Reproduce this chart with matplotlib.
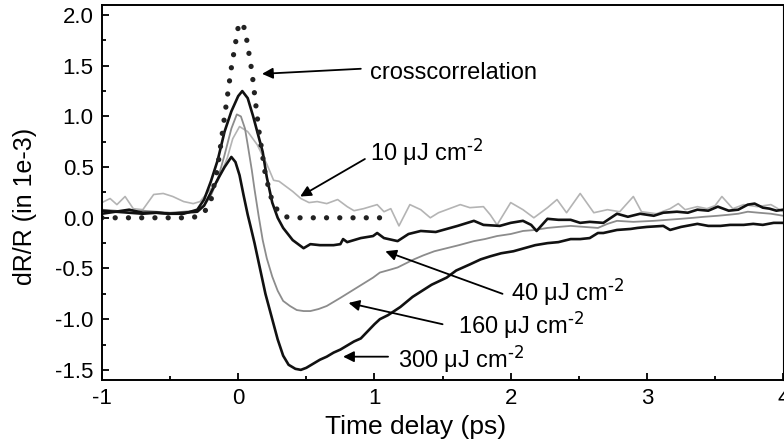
import matplotlib
matplotlib.use("Agg")
import matplotlib.pyplot as plt
from matplotlib.ticker import MultipleLocator

plt.rcParams['font.family'] = ['Liberation Sans', 'DejaVu Sans']
plt.rcParams['mathtext.default'] = 'regular'
plt.rcParams['axes.unicode_minus'] = False

# pump-probe traces, delay in ps, dR/R in units of 1e-3
t_10 = [-1.0, -0.94, -0.89, -0.83, -0.77, -0.7, -0.62, -0.55, -0.48, -0.4, -0.33, -0.28, -0.23,
        -0.15, -0.08, -0.04, 0.01, 0.07, 0.14, 0.21, 0.26, 0.3, 0.35, 0.4, 0.46, 0.52, 0.58,
        0.65, 0.73, 0.8, 0.85, 0.92, 1.02, 1.07, 1.12, 1.18, 1.26, 1.34, 1.41, 1.47, 1.53,
        1.63, 1.7, 1.8, 1.85, 1.9, 2.0, 2.09, 2.17, 2.27, 2.34, 2.41, 2.51, 2.61, 2.71, 2.8,
        2.9, 2.96, 3.07, 3.17, 3.23, 3.28, 3.37, 3.44, 3.5, 3.55, 3.63, 3.71, 3.81, 3.91, 4.0]
r_10 = [0.15, 0.19, 0.13, 0.21, 0.09, 0.08, 0.23, 0.24, 0.21, 0.16, 0.14, 0.16, 0.24,
        0.36, 0.59, 0.78, 0.9, 0.85, 0.72, 0.53, 0.37, 0.36, 0.31, 0.26, 0.19, 0.15, 0.16,
        0.14, 0.18, 0.11, 0.07, 0.09, 0.13, 0.06, 0.09, -0.08, 0.13, 0.08, 0.0, 0.05, 0.08,
        0.13, 0.1, 0.11, 0.03, -0.07, 0.15, 0.08, 0.0, 0.1, 0.18, 0.05, 0.24, 0.05, 0.08, 0.06,
        0.21, 0.06, 0.04, 0.09, 0.14, 0.08, 0.11, 0.09, 0.12, 0.21, 0.09, 0.13, 0.11, 0.13, 0.06]

t_40 = [-1.0, -0.9, -0.8, -0.7, -0.6, -0.5, -0.4, -0.3, -0.25, -0.2, -0.15, -0.1, -0.05, 0.0,
        0.03, 0.07, 0.11, 0.15, 0.18, 0.21, 0.25, 0.29, 0.33, 0.4, 0.48, 0.53, 0.6, 0.7, 0.75,
        0.77, 0.8, 0.9, 0.99, 1.02, 1.07, 1.17, 1.25, 1.34, 1.45, 1.53, 1.61, 1.73, 1.8, 1.92,
        2.0, 2.09, 2.15, 2.19, 2.27, 2.35, 2.44, 2.51, 2.58, 2.68, 2.78, 2.86, 2.95, 3.05, 3.12,
        3.22, 3.3, 3.37, 3.45, 3.52, 3.6, 3.67, 3.74, 3.79, 3.85, 3.9, 3.95, 4.0]
r_40 = [0.07, 0.06, 0.08, 0.05, 0.05, 0.04, 0.04, 0.08, 0.18, 0.36, 0.57, 0.85, 1.05, 1.2,
        1.25, 1.18, 1.0, 0.8, 0.65, 0.4, 0.15, 0.0, -0.1, -0.22, -0.3, -0.26, -0.27, -0.27, -0.26,
        -0.21, -0.24, -0.2, -0.18, -0.15, -0.2, -0.23, -0.16, -0.13, -0.14, -0.11, -0.08, -0.03, -0.07, -0.08,
        -0.05, -0.03, -0.07, -0.13, -0.01, -0.02, -0.02, -0.05, -0.04, -0.05, 0.04, 0.01, 0.04, 0.02, 0.05,
        0.06, 0.05, 0.08, 0.07, 0.11, 0.07, 0.08, 0.13, 0.14, 0.1, 0.09, 0.07, 0.08]

t_160 = [-1.0, -0.9, -0.8, -0.7, -0.6, -0.5, -0.4, -0.3, -0.25, -0.2, -0.15, -0.1, -0.05, -0.01,
         0.02, 0.05, 0.07, 0.1, 0.12, 0.15, 0.18, 0.21, 0.25, 0.29, 0.33, 0.38, 0.43, 0.48, 0.53,
         0.59, 0.65, 0.7, 0.75, 0.81, 0.87, 0.93, 0.99, 1.04, 1.12, 1.17, 1.23, 1.29, 1.36, 1.44,
         1.53, 1.62, 1.73, 1.81, 1.9, 2.0, 2.09, 2.18, 2.27, 2.35, 2.44, 2.54, 2.64, 2.71, 2.78,
         2.9, 3.05, 3.15, 3.25, 3.34, 3.42, 3.52, 3.6, 3.67, 3.74, 3.82, 3.91, 4.0]
r_160 = [0.08, 0.07, 0.05, 0.07, 0.06, 0.05, 0.06, 0.07, 0.12, 0.22, 0.38, 0.62, 0.88, 1.02,
         1.0, 0.88, 0.72, 0.47, 0.28, 0.02, -0.22, -0.4, -0.58, -0.72, -0.82, -0.87, -0.91, -0.92, -0.92,
         -0.9, -0.87, -0.83, -0.79, -0.74, -0.69, -0.64, -0.59, -0.54, -0.51, -0.49, -0.45, -0.41, -0.37, -0.33,
         -0.3, -0.27, -0.23, -0.21, -0.18, -0.16, -0.13, -0.12, -0.1, -0.09, -0.08, -0.09, -0.1, -0.06, -0.03,
         -0.04, -0.03, -0.02, -0.01, 0.0, 0.01, 0.02, 0.03, 0.04, 0.06, 0.05, 0.04, 0.02]

t_300 = [-1.0, -0.9, -0.8, -0.7, -0.6, -0.5, -0.4, -0.3, -0.25, -0.2, -0.15, -0.1, -0.05, -0.02,
         0.01, 0.04, 0.07, 0.09, 0.12, 0.16, 0.2, 0.23, 0.26, 0.29, 0.33, 0.37, 0.42, 0.46, 0.5,
         0.55, 0.6, 0.65, 0.7, 0.75, 0.8, 0.85, 0.9, 0.95, 1.0, 1.04, 1.1, 1.19, 1.28, 1.35, 1.42,
         1.53, 1.6, 1.7, 1.78, 1.85, 1.93, 2.02, 2.1, 2.18, 2.27, 2.35, 2.44, 2.51, 2.58, 2.64,
         2.68, 2.78, 2.88, 2.93, 3.0, 3.12, 3.17, 3.25, 3.37, 3.45, 3.54, 3.61, 3.71, 3.78, 3.85,
         3.93, 4.0]
r_300 = [0.04, 0.06, 0.05, 0.04, 0.05, 0.04, 0.05, 0.06, 0.12, 0.25, 0.38, 0.5, 0.6, 0.55,
         0.42, 0.22, 0.03, -0.08, -0.25, -0.5, -0.75, -0.9, -1.05, -1.2, -1.36, -1.45, -1.49, -1.5, -1.48,
         -1.44, -1.4, -1.37, -1.33, -1.3, -1.26, -1.22, -1.19, -1.12, -1.05, -1.0, -0.96, -0.88, -0.78, -0.72, -0.66,
         -0.59, -0.52, -0.46, -0.41, -0.38, -0.35, -0.33, -0.3, -0.27, -0.25, -0.24, -0.21, -0.21, -0.2, -0.15,
         -0.15, -0.12, -0.11, -0.1, -0.09, -0.08, -0.12, -0.09, -0.06, -0.08, -0.08, -0.07, -0.07, -0.06, -0.07,
         -0.05, -0.05]

# pump/probe crosscorrelation
t_cc = [-1.0, -0.9, -0.8, -0.7, -0.6, -0.5, -0.4, -0.3, -0.25, -0.2, -0.15, -0.1, -0.05, 0.0,
        0.02, 0.05, 0.1, 0.15, 0.2, 0.25, 0.3, 0.35, 0.4, 0.5, 0.6, 0.7, 0.8, 0.9, 1.0, 1.06]
r_cc = [0.0, 0.0, 0.0, 0.0, 0.0, 0.0, 0.0, 0.01, 0.05, 0.17, 0.5, 1.0, 1.48, 1.88,
        1.93, 1.86, 1.45, 0.88, 0.42, 0.16, 0.05, 0.01, 0.0, 0.0, 0.0, 0.0, 0.0, 0.0, 0.0, 0.0]

fig = plt.figure(figsize=(7.84, 4.46), dpi=100)
ax = fig.add_axes([0.130, 0.148, 0.869, 0.841])

ax.plot(t_10, r_10, color='#b4b4b4', lw=1.2)
ax.plot(t_160, r_160, color='#8c8c8c', lw=1.3)
ax.plot(t_40, r_40, color='#111111', lw=1.9)
ax.plot(t_300, r_300, color='#111111', lw=1.9)
ax.plot(t_cc, r_cc, color='#222222', lw=3.8, linestyle=(0, (0.01, 2.5)),
        dash_capstyle='round')

ax.set_xlim(-1, 4)
ax.set_ylim(-1.6, 2.1)
ax.xaxis.set_major_locator(MultipleLocator(1))
ax.xaxis.set_minor_locator(MultipleLocator(0.5))
ax.yaxis.set_major_locator(MultipleLocator(0.5))
ax.yaxis.set_minor_locator(MultipleLocator(0.25))
ax.yaxis.set_major_formatter(plt.FuncFormatter(lambda v, p: f"{v:.1f}"))
ax.tick_params(which='both', direction='in', top=False, right=False,
               width=1.3, labelsize=16)
ax.tick_params(which='major', length=5, pad=6)
ax.tick_params(which='minor', length=3)
for s in ax.spines.values():
    s.set_linewidth(1.4)
ax.spines['right'].set_linewidth(0.8)

ax.set_xlabel("Time delay (ps)", fontsize=19)
ax.set_ylabel("dR/R (in 1e-3)", fontsize=18)
ax.xaxis.set_label_coords(0.461, -0.125)
ax.yaxis.set_label_coords(-0.113, 0.464)
ax.xaxis.label.set_va('center')
ax.yaxis.label.set_va('center')

arrow = dict(arrowstyle='-|>', color='black', lw=1.3, mutation_scale=16,
             shrinkA=0, shrinkB=0)
ax.annotate('', xy=(0.175, 1.42), xytext=(0.9, 1.47), arrowprops=arrow)
ax.annotate('', xy=(0.455, 0.21), xytext=(0.93, 0.58), arrowprops=arrow)
ax.annotate('', xy=(1.08, -0.33), xytext=(1.94, -0.75), arrowprops=arrow)
ax.annotate('', xy=(0.81, -0.84), xytext=(1.5, -1.05), arrowprops=arrow)
ax.annotate('', xy=(0.77, -1.37), xytext=(1.1, -1.37), arrowprops=arrow)

lab = dict(fontsize=17, va='baseline', ha='left')
unit = r" $\mu$J cm$^{\text{-2}}$"
ax.text(0.97, 1.37, "crosscorrelation", **lab)
ax.text(0.97, 0.56, "10" + unit, **lab)
ax.text(2.0, -0.82, "40" + unit, **lab)
ax.text(1.61, -1.14, "160" + unit, **lab)
ax.text(1.17, -1.48, "300" + unit, **lab)

fig.savefig("out.png", dpi=100)
